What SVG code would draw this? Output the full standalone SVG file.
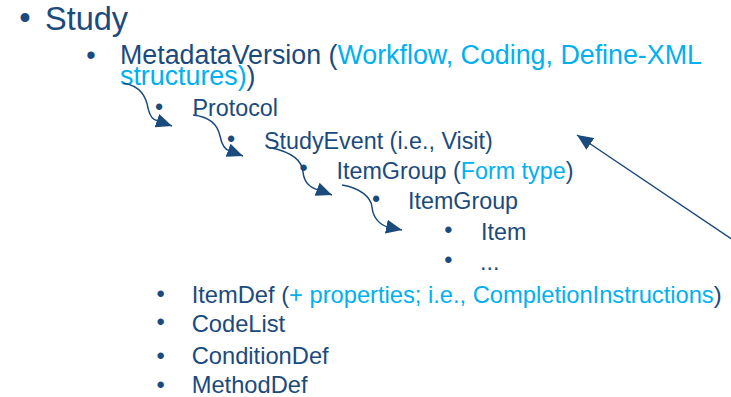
<svg xmlns="http://www.w3.org/2000/svg" width="731" height="397" viewBox="0 0 731 397">
<style>
text{font-family:"Liberation Sans",Arial,sans-serif;fill:#1B4A7C}
.hl{fill:#00B0F0}
.b{text-anchor:middle}
.l1{font-size:32.5px}
.l2{font-size:26.8px}
.l3{font-size:23.3px}
.l4{font-size:23.7px}
.con{fill:none;stroke:#1B4A7C;stroke-width:1.5}
</style>
<defs>
<marker id="ah" viewBox="0 0 16 14" refX="16" refY="7" markerWidth="16" markerHeight="14" markerUnits="userSpaceOnUse" orient="auto">
<path d="M0,0 L16,7 L0,14 z" fill="#1B4A7C"/>
</marker>
</defs>
<rect width="731" height="397" fill="#ffffff"/>
<g id="study"><text class="l1 b" x="25" y="28.5">•</text><text class="l1" x="45" y="30">Study</text></g>
<g id="metadataversion"><text class="l2 b" x="91" y="63.5">•</text><text class="l2" x="120" y="64">MetadataVersion (<tspan class="hl">Workflow, Coding, Define-XML</tspan></text><text class="l2" x="120" y="85"><tspan class="hl">structures)</tspan>)</text></g>
<g id="protocol"><text class="l3 b" x="159" y="114.6">•</text><text class="l3" x="192.5" y="116">Protocol</text></g>
<g id="studyevent"><text class="l3 b" x="231" y="147">•</text><text class="l3" x="264" y="148.5">StudyEvent (i.e., Visit)</text></g>
<g id="itemgroup1"><text class="l3 b" x="303.5" y="176.2">•</text><text class="l3" x="336.5" y="178.5">ItemGroup (<tspan class="hl">Form type</tspan>)</text></g>
<g id="itemgroup2"><text class="l3 b" x="376" y="207">•</text><text class="l3" x="408" y="208.5">ItemGroup</text></g>
<g id="item"><text class="l3 b" x="448.3" y="238.3">•</text><text class="l3" x="481" y="239.5">Item</text></g>
<g id="more"><text class="l3 b" x="448.3" y="267.6">•</text><text class="l3" x="480" y="270">...</text></g>
<g id="itemdef"><text class="l4 b" x="160.7" y="302">•</text><text class="l4" x="191.7" y="302.7">ItemDef (<tspan class="hl">+ properties; i.e., CompletionInstructions</tspan>)</text></g>
<g id="codelist"><text class="l4 b" x="160.7" y="330.3">•</text><text class="l4" x="191.7" y="331.7">CodeList</text></g>
<g id="conditiondef"><text class="l4 b" x="160.7" y="363.6">•</text><text class="l4" x="191.7" y="364">ConditionDef</text></g>
<g id="methoddef"><text class="l4 b" x="160.7" y="393">•</text><text class="l4" x="191.7" y="393.3">MethodDef</text></g>
<g id="connectors">
<path class="con" marker-end="url(#ah)" d="M123,83 C141,86 146,97 148,108 C150,117 153,120 158,121 L172,126"/>
<path class="con" marker-end="url(#ah)" d="M193,115 C212,117 218,126 220,136 C222,146 225,150 230,151 L243,156"/>
<path class="con" marker-end="url(#ah)" d="M272,148 C290,152 302,160 303,172 C304,182 310,188 319,190 L332,195"/>
<path class="con" marker-end="url(#ah)" d="M342,185 C360,188 371,197 372,207 C373,218 380,225 388,227 L402,230"/>
<path class="con" marker-end="url(#ah)" d="M736,242 L577,135"/>
</g>
</svg>
